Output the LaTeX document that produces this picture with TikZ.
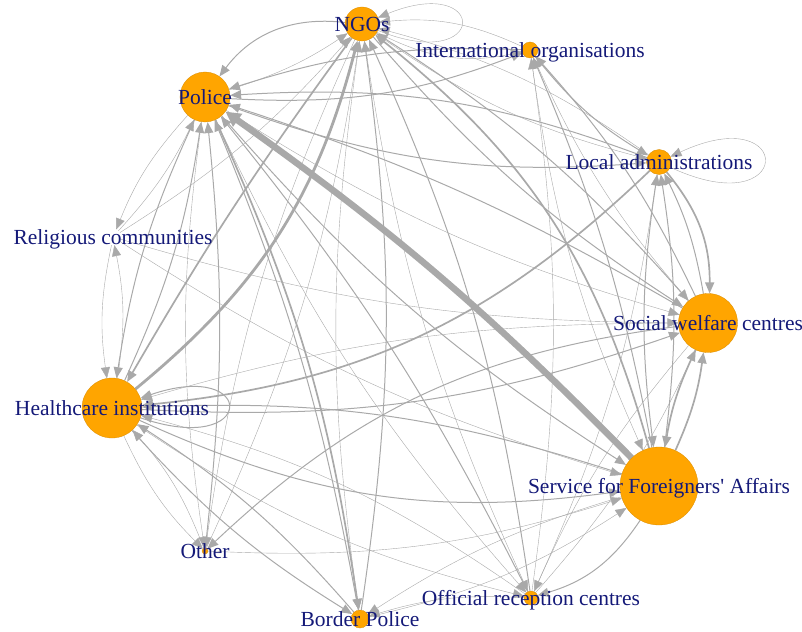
\documentclass[tikz,border=0pt]{standalone}
\usepackage{fontspec}
\setmainfont{Liberation Serif}
\usetikzlibrary{arrows.meta}
\definecolor{edgegray}{RGB}{169,169,169}
\definecolor{labblue}{RGB}{20,25,120}
\definecolor{vertorange}{RGB}{255,165,0}
\pgfdeclarelayer{edges}
\pgfsetlayers{edges,main}

\begin{document}
\begin{tikzpicture}[x=1pt,y=1pt,
  vert/.style={circle,fill=vertorange,draw=vertorange!85!black,line width=0.3pt,inner sep=0pt},
  lab/.style={font=\fontsize{21.5}{24}\selectfont,text=labblue,inner sep=0pt,text height=14.6pt,text depth=0pt},
  link/.style={draw=edgegray,-{Triangle[length=11pt,width=9pt]}},
  faint/.style={link,line width=0.4pt},
  medlink/.style={link,line width=1pt},
  boldlink/.style={link,line width=1.7pt},
  heavylink/.style={link,line width=2.8pt},
  hugelink/.style={draw=edgegray,line width=6.5pt,-{Triangle[length=15pt,width=15pt]}}]
  \useasboundingbox (0,0) rectangle (802,-631);
  % Vertices on the circle
  \node[vert,minimum size=34pt] (ngo) at (362,-24) {};
  \node[vert,minimum size=16pt] (intorg) at (530,-50) {};
  \node[vert,minimum size=50pt] (police) at (205,-97) {};
  \node[vert,minimum size=25pt] (localadm) at (659,-162) {};
  \node[circle,inner sep=0pt,minimum size=16pt] (relig) at (113,-237) {};
  \node[vert,minimum size=59pt] (social) at (708,-323) {};
  \node[vert,minimum size=60pt] (health) at (112,-408) {};
  \node[vert,minimum size=78pt] (sfa) at (659,-486) {};
  \node[vert,minimum size=6pt] (other) at (205,-551) {};
  \node[vert,minimum size=14pt] (orc) at (531,-598) {};
  \node[vert,minimum size=18pt] (border) at (360,-619) {};
  % Ties
  \begin{pgfonlayer}{edges}
    \foreach \a/\b/\c in {police/ngo/8, relig/ngo/8, other/ngo/8, localadm/ngo/10,
        intorg/ngo/15, relig/police/8, ngo/intorg/20, orc/intorg/8, ngo/localadm/10,
        orc/localadm/8, intorg/social/8, police/social/8, relig/social/8, orc/social/8,
        intorg/sfa/8, relig/sfa/8, other/sfa/10, border/sfa/10, relig/health/10,
        social/health/8, other/health/10, orc/health/10, police/relig/10, health/relig/10,
        police/other/8, ngo/other/8, health/other/10, police/orc/8, ngo/orc/8,
        health/orc/10, social/orc/8, ngo/border/8, sfa/border/8, orc/border/10}
      \draw[faint] (\a) to[bend right=\c] (\b);
    \foreach \a/\b/\c in {ngo/police/30, intorg/police/10, localadm/police/12,
        police/localadm/12, social/police/6, health/police/8, other/police/6,
        border/police/6, orc/police/6, border/ngo/8, orc/ngo/8, social/ngo/8,
        social/intorg/8, sfa/intorg/6, police/intorg/12, intorg/localadm/10,
        social/localadm/8, sfa/localadm/8, ngo/social/8, health/social/11,
        police/sfa/8, localadm/sfa/8, health/sfa/16, police/health/8, sfa/health/10,
        border/health/8, health/border/8, social/other/18, sfa/orc/-20}
      \draw[medlink] (\a) to[bend right=\c] (\b);
    \foreach \a/\b/\c in {ngo/health/3, localadm/health/-19, sfa/ngo/18,
        localadm/social/-20, social/sfa/8, sfa/social/8, police/border/-8}
      \draw[boldlink] (\a) to[bend right=\c] (\b);
    \draw[heavylink] (health) to[bend right=18] (ngo);
    \draw[hugelink] (sfa) to[bend right=5] (police);
    % Self-ties
    \draw[faint] (ngo) to[out=-22,in=22,min distance=120pt] (ngo);
    \draw[faint] (localadm) to[out=-25,in=25,min distance=138pt] (localadm);
    \draw[medlink] (health) to[out=-19,in=19,min distance=124pt] (health);
  \end{pgfonlayer}
  % Labels
  \node[lab] at (ngo) {NGOs};
  \node[lab] at (intorg) {International organisations};
  \node[lab] at (police) {Police};
  \node[lab] at (localadm) {Local administrations};
  \node[lab] at (relig) {Religious communities};
  \node[lab] at (social) {Social welfare centres};
  \node[lab] at (health) {Healthcare institutions};
  \node[lab] at (sfa) {Service for Foreigners\textquotesingle\ Affairs};
  \node[lab] at (other) {Other};
  \node[lab] at (orc) {Official reception centres};
  \node[lab] at (border) {Border Police};
\end{tikzpicture}
\end{document}
